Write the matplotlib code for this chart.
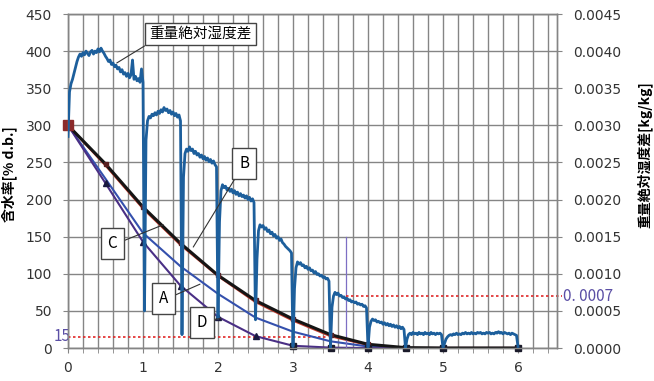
import numpy as np
import matplotlib
matplotlib.use("Agg")
import matplotlib.pyplot as plt
from matplotlib.ticker import MultipleLocator, FormatStrFormatter

plt.rcParams['font.family'] = ['DejaVu Sans', 'Noto Sans CJK JP']
CJK = ['Noto Sans CJK JP', 'DejaVu Sans']

# ---- moisture content curves [% d.b.] ----
time_pts = [0, 0.5, 1, 1.5, 2, 2.5, 3, 3.5, 4, 4.5, 5, 6]
curve_B = [300, 248, 190, 141, 98, 64, 39, 18, 5, 0.5, 0, 0]
curve_R = [300, 246, 188, 139, 97, 62, 37, 16, 4, 0, 0, 0]
curve_A = [300, 228, 155, 110, 73, 41, 22, 9, 2, 0, 0, 0]
curve_D = [300, 222, 143, 84, 42, 16, 3, 0.5, 0, 0, 0, 0]

# ---- weight absolute humidity difference, in units of 1e-5 kg/kg ----
humid_step = 0.02
humid_1e5 = [
    285, 345, 356, 362, 370, 378, 386, 392, 396, 393, 398, 395, 400, 397, 394, 399, 401, 396, 400, 398, 403, 399, 404, 400, 397,
    393, 390, 386, 388, 382, 384, 379, 381, 376, 378, 372, 375, 369, 371, 366, 370, 364, 368, 388, 362, 366, 360, 363, 358, 376,
    358, 50, 280, 306, 312, 310, 315, 313, 317, 314, 319, 316, 321, 318, 324, 320, 322, 317, 320, 315, 318, 313, 316, 311, 314,
    306, 18, 230, 262, 268, 265, 271, 266, 268, 262, 265, 260, 262, 257, 260, 255, 258, 253, 256, 251, 254, 249, 252, 247, 244,
    40, 170, 212, 220, 216, 218, 213, 215, 211, 214, 209, 212, 207, 210, 205, 208, 204, 206, 202, 205, 200, 203, 198, 201, 196,
    38, 120, 158, 166, 163, 165, 160, 162, 157, 159, 154, 156, 151, 153, 148, 150, 145, 147, 142, 140, 137, 135, 133, 131, 128,
    2, 80, 108, 116, 113, 115, 111, 112, 108, 110, 106, 108, 104, 105, 101, 103, 99, 100, 97, 98, 95, 96, 93, 94, 90,
    1, 55, 70, 75, 72, 74, 70, 71, 68, 69, 66, 67, 64, 65, 62, 63, 61, 62, 59, 60, 58, 59, 56, 57, 54,
    1, 28, 36, 39, 37, 38, 35, 36, 34, 35, 32, 34, 31, 33, 30, 32, 29, 31, 28, 30, 27, 29, 26, 28, 25,
    0, 12, 18, 20, 18, 21, 19, 20, 18, 21, 19, 20, 18, 21, 19, 20, 18, 21, 19, 20, 18, 20, 19, 20, 18,
    0, 6, 12, 15, 17, 18, 17, 19, 18, 20, 18, 19, 18, 20, 19, 21, 19, 20, 19, 21, 19, 20, 19, 21, 20,
    21, 19, 20, 19, 21, 20, 21, 19, 20, 19, 21, 20, 22, 20, 21, 19, 21, 20, 19, 20, 18, 20, 19, 18, 17,
    2,
]

moisture_threshold = 15
moisture_line_end = 3.45
humid_threshold = 0.0007
reach_time = 3.71
reach_mark_top = 150

x_max = 6.52
y_max = 450
h_max = 0.0045

# ---- figure ----
fig = plt.figure(figsize=(6.54, 3.81), dpi=100)
ax = fig.add_axes([68 / 654, 1 - 348 / 381, 489 / 654, 334 / 381])
ax2 = ax.twinx()

grid_c = '#858585'
ax.set_xlim(0, x_max)
ax.set_ylim(0, y_max)
ax2.set_ylim(0, h_max)
ax.xaxis.set_major_locator(MultipleLocator(1))
ax.xaxis.set_minor_locator(MultipleLocator(0.2))
ax.yaxis.set_major_locator(MultipleLocator(50))
ax2.yaxis.set_major_locator(MultipleLocator(0.0005))
ax2.yaxis.set_major_formatter(FormatStrFormatter('%.4f'))
ax.grid(True, which='both', color=grid_c, lw=1.0)
ax.set_axisbelow(True)
for a in (ax, ax2):
    for s in a.spines.values():
        s.set_color(grid_c)
        s.set_linewidth(1.0)
ax.tick_params(axis='both', which='both', direction='out', length=3.5, color=grid_c,
               labelsize=10, labelcolor='#333333')
ax.tick_params(axis='y', pad=8)
ax.tick_params(axis='x', pad=6)
ax2.tick_params(axis='y', direction='out', length=3.5, color=grid_c, labelsize=10,
                labelcolor='#333333', pad=8)

# moisture curves
ax.plot(time_pts, curve_R, color='#c0392b', lw=1.6, zorder=3)
ax.plot(time_pts, curve_B, color='#151515', lw=2.2, zorder=4,
        marker='s', ms=3, mfc='#5a2020', mec='#5a2020')
ax.plot(time_pts, curve_A, color='#3450ad', lw=1.5, zorder=3)
ax.plot(time_pts, curve_D, color='#4a2f85', lw=1.5, zorder=3)
td = np.array(time_pts, dtype=float)
cd = np.array(curve_D, dtype=float)
ax.plot(td[cd > 5][1:], cd[cd > 5][1:], ls='none', marker='^', ms=5, color='#1a1a40', zorder=5)
ax.plot(td[cd <= 5], cd[cd <= 5], ls='none', marker='s', ms=5, color='#1a1a2a', zorder=5,
        clip_on=False)
ax.plot([0], [curve_R[0]], ls='none', marker='s', ms=7, color='#8b2a2a', zorder=6, clip_on=False)

# threshold lines
ax.plot([0, moisture_line_end], [moisture_threshold] * 2, color='#e02828', lw=1.2,
        ls=(0, (1.5, 1.5)), zorder=2)
ax.text(0.035, moisture_threshold, '15', ha='right', va='center', fontsize=11,
        color='#5b4fa5', family=CJK, zorder=7)
ax.plot([reach_time, reach_time], [0, reach_mark_top], color='#7d6fc4', lw=0.9, zorder=3)

# humidity
th = np.arange(len(humid_1e5)) * humid_step
hv = np.array(humid_1e5) * 1e-5
ax2.plot(th, hv, color='#1d5f9c', lw=2.0, zorder=3)
ax2.plot([reach_time, x_max + 0.07], [humid_threshold] * 2, color='#e02828', lw=1.2,
         ls=(0, (1.5, 1.5)), clip_on=False, zorder=2)
ax2.text(x_max + 0.08, humid_threshold, '0. 0007', ha='left', va='center', fontsize=11,
         color='#5b4fa5', family=CJK)

# labels
ax.set_ylabel('含水率[% d.b.]', fontsize=10, fontweight='bold', family=CJK)
ax.yaxis.set_label_coords(-0.104, 0.52)
ax2.set_ylabel('重量絶対湿度差[kg/kg]', fontsize=10, fontweight='bold', family=CJK,
               rotation=90)
ax2.yaxis.set_label_coords(1.164, 0.58)

# callouts
def callout(text, xy, xytext, relpos, fs=11, pad=0.45):
    box = dict(boxstyle='square,pad=%s' % pad, fc='white', ec='#444444', lw=1.0)
    ax2.annotate(text, xy=xy, xytext=xytext, xycoords=ax.transData, textcoords=ax.transData,
                 ha='center', va='center', fontsize=fs, family=CJK, bbox=box, zorder=8,
                 arrowprops=dict(arrowstyle='-', color='#333333', lw=0.8, relpos=relpos,
                                 shrinkA=0, shrinkB=0))

callout('重量絶対湿度差', (0.65, 384), (1.77, 423), (0.03, 0.0), fs=10.5, pad=0.3)
callout('B', (1.67, 136), (2.35, 249), (0.1, 0.1))
callout('C', (1.27, 166), (0.59, 141), (1.0, 0.5))
callout('A', (1.76, 86), (1.27, 67), (1.0, 0.5))
callout('D', (2.04, 40), (1.79, 34), (1.0, 0.6))

fig.savefig('out.png', dpi=100)
